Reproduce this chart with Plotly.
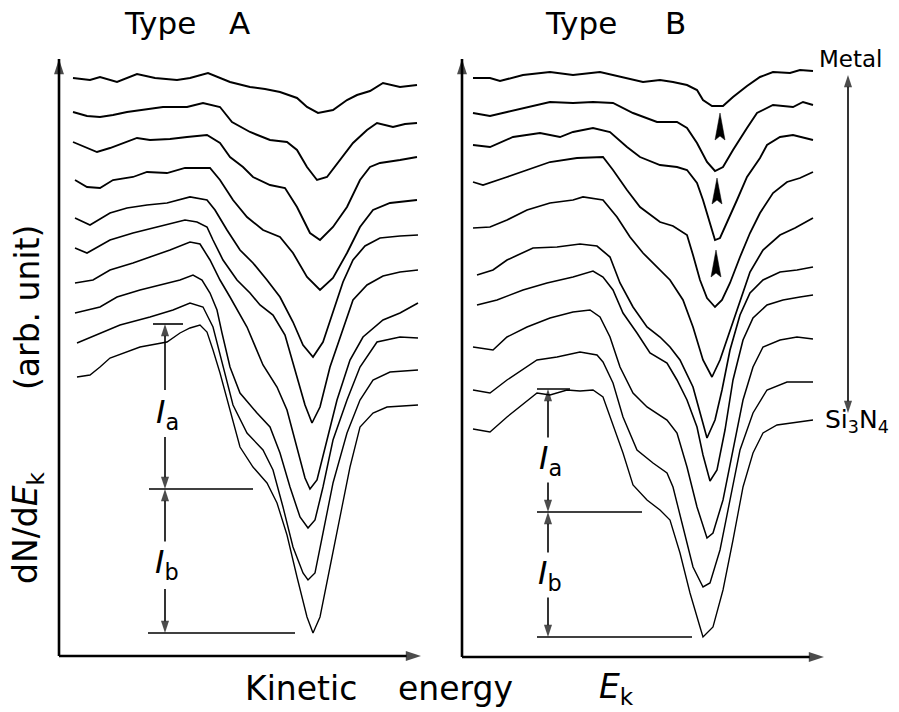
import plotly.graph_objects as go

# ---------------- data (arb. units: kinetic energy, dN/dEk) ----------------
typeA_energy = [
    [14, 31, 41, 58, 78, 96, 118, 131, 149, 171, 191, 206, 221, 238, 248, 259, 274, 288, 298, 311, 324, 341, 358],
    [14, 28, 41, 54, 68, 81, 104, 128, 144, 161, 173, 191, 211, 228, 238, 248, 258, 268, 281, 294, 308, 318, 334, 346, 358],
    [14, 28, 38, 51, 64, 78, 91, 111, 128, 148, 161, 171, 184, 194, 211, 226, 238, 251, 261, 274, 288, 301, 311, 321, 341, 358],
    [16, 28, 41, 54, 74, 88, 108, 126, 151, 161, 174, 188, 204, 221, 234, 248, 261, 274, 288, 301, 314, 331, 358],
    [16, 31, 51, 68, 88, 108, 131, 148, 156, 168, 181, 194, 208, 221, 234, 244, 254, 264, 274, 284, 294, 306, 321, 341, 359],
    [16, 28, 51, 74, 98, 126, 138, 148, 154, 164, 178, 191, 201, 214, 226, 238, 246, 253, 261, 271, 284, 294, 308, 324, 341, 359],
    [16, 34, 51, 74, 91, 111, 131, 141, 151, 161, 171, 188, 204, 218, 228, 238, 246, 251, 258, 268, 278, 291, 304, 324, 341, 359],
    [16, 41, 58, 81, 101, 121, 134, 143, 151, 158, 163, 171, 181, 198, 211, 221, 231, 241, 249, 256, 264, 274, 288, 301, 318, 341, 359],
    [18, 41, 61, 91, 114, 131, 144, 154, 164, 174, 188, 204, 214, 224, 234, 244, 249, 256, 264, 274, 288, 301, 314, 331, 359],
    [18, 31, 41, 51, 81, 108, 121, 131, 141, 148, 154, 161, 171, 181, 194, 208, 218, 228, 238, 248, 254, 261, 271, 281, 291, 301, 314, 328, 341, 359],
]
typeA_signal = [
    [578, 576, 579, 574, 582, 578, 576, 578, 583, 574, 569, 567, 564, 558, 549, 543, 546, 556, 561, 565, 573, 569, 571],
    [544, 540, 539, 541, 544, 546, 549, 549, 553, 549, 534, 524, 516, 514, 506, 489, 476, 479, 496, 513, 526, 533, 529, 532, 533],
    [514, 508, 504, 508, 513, 518, 516, 517, 519, 521, 513, 499, 489, 479, 471, 468, 449, 423, 416, 429, 449, 476, 489, 493, 496, 499],
    [476, 469, 468, 476, 479, 484, 483, 488, 488, 476, 456, 439, 426, 419, 403, 379, 366, 378, 403, 429, 446, 453, 456],
    [438, 431, 443, 448, 451, 453, 459, 456, 446, 426, 406, 393, 376, 359, 334, 311, 299, 314, 344, 374, 396, 410, 418, 420, 421],
    [408, 403, 416, 423, 429, 436, 434, 429, 416, 396, 376, 363, 351, 341, 321, 278, 251, 233, 249, 289, 326, 356, 371, 380, 384, 386],
    [373, 376, 386, 393, 399, 406, 414, 412, 396, 376, 359, 329, 291, 269, 246, 209, 178, 167, 176, 216, 256, 296, 319, 336, 343, 353],
    [343, 349, 359, 366, 371, 376, 381, 376, 363, 346, 323, 289, 263, 243, 229, 203, 169, 139, 128, 136, 169, 216, 256, 289, 314, 319, 318],
    [313, 323, 331, 339, 346, 353, 349, 329, 289, 251, 223, 206, 186, 149, 109, 83, 76, 83, 123, 173, 223, 256, 276, 284, 286],
    [279, 281, 289, 298, 309, 314, 323, 328, 331, 324, 306, 283, 246, 209, 189, 173, 153, 121, 79, 39, 23, 39, 89, 139, 189, 229, 243, 249, 250, 251],
]

typeB_energy = [
    [11, 28, 38, 61, 88, 111, 138, 151, 165, 181, 198, 211, 225, 235, 241, 250, 261, 271, 285, 298, 311, 328, 338, 351],
    [11, 28, 45, 65, 88, 111, 131, 151, 171, 195, 215, 225, 235, 245, 253, 261, 271, 285, 295, 311, 331, 341, 351],
    [11, 28, 51, 78, 98, 111, 131, 148, 165, 178, 198, 215, 225, 235, 241, 248, 253, 258, 265, 275, 285, 298, 305, 318, 331, 351],
    [11, 21, 45, 65, 88, 115, 141, 151, 165, 178, 191, 198, 211, 225, 231, 238, 245, 253, 260, 268, 278, 288, 298, 311, 325, 338, 351],
    [11, 28, 45, 65, 88, 111, 121, 141, 155, 168, 181, 195, 208, 221, 231, 241, 250, 258, 268, 278, 288, 301, 318, 333, 351],
    [15, 31, 45, 71, 95, 118, 135, 148, 158, 171, 185, 198, 208, 218, 231, 238, 245, 253, 260, 268, 278, 288, 301, 318, 335, 351],
    [15, 35, 61, 85, 111, 131, 141, 151, 161, 175, 188, 205, 215, 225, 235, 241, 248, 255, 263, 271, 281, 291, 305, 321, 338, 351],
    [11, 31, 45, 65, 88, 111, 128, 138, 148, 158, 171, 185, 205, 215, 225, 235, 245, 251, 261, 271, 281, 291, 301, 318, 335, 351],
    [11, 28, 45, 75, 95, 118, 135, 141, 151, 161, 175, 191, 205, 211, 221, 231, 241, 248, 258, 268, 278, 291, 305, 325, 351],
    [11, 28, 45, 58, 75, 88, 105, 118, 131, 141, 151, 161, 171, 185, 198, 208, 218, 228, 238, 241, 251, 261, 271, 281, 291, 301, 315, 331, 351],
]
typeB_signal = [
    [578, 578, 575, 581, 584, 581, 584, 581, 578, 574, 576, 574, 571, 566, 556, 550, 550, 559, 570, 579, 584, 583, 586, 585],
    [543, 540, 544, 549, 554, 553, 554, 553, 543, 534, 534, 528, 513, 494, 485, 489, 506, 528, 543, 551, 549, 554, 551],
    [511, 509, 519, 523, 519, 524, 528, 524, 509, 499, 491, 489, 486, 473, 456, 434, 416, 418, 433, 456, 479, 498, 511, 519, 521, 516],
    [474, 471, 479, 486, 494, 498, 499, 486, 466, 449, 439, 434, 430, 421, 401, 376, 358, 349, 356, 373, 399, 423, 443, 463, 474, 478, 484],
    [428, 429, 436, 446, 453, 456, 459, 456, 439, 419, 403, 389, 376, 356, 329, 296, 279, 296, 326, 356, 384, 406, 421, 428, 438],
    [381, 386, 396, 408, 409, 412, 410, 399, 373, 349, 329, 319, 309, 296, 269, 243, 218, 236, 266, 306, 341, 363, 376, 384, 386, 389],
    [351, 356, 366, 373, 379, 385, 379, 366, 343, 323, 303, 293, 276, 256, 229, 201, 175, 186, 226, 276, 316, 338, 351, 356, 359, 361],
    [309, 306, 319, 329, 338, 344, 346, 339, 319, 289, 263, 249, 236, 223, 189, 149, 118, 123, 156, 206, 256, 289, 309, 316, 319, 317],
    [266, 263, 276, 296, 299, 304, 301, 294, 273, 239, 206, 193, 183, 169, 129, 89, 69, 73, 106, 156, 206, 243, 266, 274, 274],
    [227, 224, 239, 249, 263, 261, 266, 265, 266, 259, 231, 203, 171, 156, 146, 136, 103, 63, 29, 19, 29, 66, 116, 169, 203, 223, 231, 233, 236],
]

# Ia / Ib construction (top of shoulder, shoulder level, minimum)
A_bracket_energy = 106
A_levels = [332, 167, 23]
A_level_spans = [(94, 124), (90, 194), (89, 236)]
B_bracket_energy = 86
B_levels = [267, 144, 19]
B_level_spans = [(75, 108), (75, 180), (75, 230)]

# peak-shift markers on Type B curves
B_marker_energy = [258, 255, 254]
B_marker_tip = [543, 478, 406]
B_marker_base = [516, 452, 379]

# Metal -> Si3N4 series arrow (Type B panel units)
series_arrow_energy = 386
series_arrow_top = 581
series_arrow_bottom = 243

FONT = "DejaVu Sans"
fig = go.Figure()

for k, (E, S) in enumerate(zip(typeA_energy, typeA_signal)):
    fig.add_trace(go.Scatter(x=E, y=S, mode="lines", xaxis="x", yaxis="y",
                             line=dict(color="black", width=2.0 - 0.07 * k),
                             hoverinfo="skip", showlegend=False))
for k, (E, S) in enumerate(zip(typeB_energy, typeB_signal)):
    fig.add_trace(go.Scatter(x=E, y=S, mode="lines", xaxis="x2", yaxis="y2",
                             line=dict(color="black", width=2.0 - 0.07 * k),
                             hoverinfo="skip", showlegend=False))

for e, tip, base in zip(B_marker_energy, B_marker_tip, B_marker_base):
    fig.add_trace(go.Scatter(x=[e - 5, e, e + 5, e, e - 5],
                             y=[base, tip, base, base + 4, base],
                             mode="lines", fill="toself", fillcolor="black",
                             line=dict(color="black", width=0.5),
                             xaxis="x2", yaxis="y2", hoverinfo="skip", showlegend=False))


def arrow(xa, ya, x0, y0, x1, y1, width=1.6, size=13):
    """line from (x0,y0) to (x1,y1) with an arrowhead at (x1,y1)"""
    fig.add_trace(go.Scatter(x=[x0, x1], y=[y0, y1], mode="lines+markers",
                             xaxis=xa, yaxis=ya, cliponaxis=False,
                             line=dict(color="black", width=width),
                             marker=dict(symbol="arrow", angleref="previous", size=[0, size],
                                         color="black", line=dict(width=0)),
                             hoverinfo="skip", showlegend=False))


# axes drawn as arrows
for xa, ya, base in (("x", "y", 0), ("x2", "y2", -1)):
    arrow(xa, ya, 0, base, 0, 597, width=2.6, size=16)
    arrow(xa, ya, 0, base, 362, base, width=2.6, size=16)

shapes = []
annotations = []


def bracket(xa, ya, e, levels, spans, label_y):
    for lv, (a, b) in zip(levels, spans):
        shapes.append(dict(type="line", xref=xa, yref=ya, x0=a, x1=b, y0=lv, y1=lv,
                           line=dict(color="black", width=1.6)))
    top, mid, bot = levels
    arrow(xa, ya, e, top - 66, e, top)
    arrow(xa, ya, e, mid + 52, e, mid)
    arrow(xa, ya, e, mid - 55, e, mid)
    arrow(xa, ya, e, bot + 44, e, bot)
    for txt, ly in zip(["a", "b"], label_y):
        annotations.append(dict(xref=xa, yref=ya, x=e + 2, y=ly, showarrow=False,
                                text="<i>I</i><sub>%s</sub>" % txt, bgcolor="white",
                                font=dict(family=FONT, size=32, color="black")))


bracket("x", "y", A_bracket_energy, A_levels, A_level_spans, [242, 92])
bracket("x2", "y2", B_bracket_energy, B_levels, B_level_spans, [196, 81])

# Metal <-> Si3N4 double arrow
mid = (series_arrow_top + series_arrow_bottom) / 2
arrow("x2", "y2", series_arrow_energy, mid, series_arrow_energy, series_arrow_top, size=13)
arrow("x2", "y2", series_arrow_energy, mid, series_arrow_energy, series_arrow_bottom, size=13)


def label(text, x, y, size, angle=0):
    annotations.append(dict(xref="paper", yref="paper", x=x, y=y, text=text, showarrow=False,
                            textangle=angle, xanchor="center", yanchor="middle",
                            font=dict(family=FONT, size=size, color="black")))


label("Type", 160 / 899, 1 - 23 / 712, 31)
label("A", 239 / 899, 1 - 23 / 712, 31)
label("Type", 581 / 899, 1 - 23 / 712, 31)
label("B", 675 / 899, 1 - 23 / 712, 31)
label("Kinetic", 301 / 899, 1 - 688 / 712, 33)
label("energy", 455 / 899, 1 - 688 / 712, 33)
label("<i>E</i><sub>k</sub>", 616 / 899, 1 - 688 / 712, 33)
label("dN/d<i>E</i><sub>k</sub>", 27 / 899, 1 - 528 / 712, 33, angle=-90)
label("(arb. unit)", 27 / 899, 1 - 308 / 712, 33, angle=-90)
label("Metal", 851 / 899, 1 - 59 / 712, 23)
label("Si<sub>3</sub>N<sub>4</sub>", 857 / 899, 1 - 421 / 712, 25)

ydom = [51 / 712, 657 / 712]
fig.update_layout(
    width=899, height=712, margin=dict(l=0, r=0, t=0, b=0),
    paper_bgcolor="white", plot_bgcolor="white", showlegend=False,
    xaxis=dict(domain=[54 / 899, 425 / 899], range=[-5, 366], visible=False, fixedrange=True),
    yaxis=dict(domain=ydom, range=[-5, 601], visible=False, fixedrange=True),
    xaxis2=dict(domain=[457 / 899, 1], range=[-5, 437], visible=False, anchor="y2", fixedrange=True),
    yaxis2=dict(domain=ydom, range=[-5, 601], visible=False, anchor="x2", fixedrange=True),
    shapes=shapes, annotations=annotations,
)

fig.write_html("out.html", config={"displayModeBar": False},
               post_script="document.body.style.margin='0';")
